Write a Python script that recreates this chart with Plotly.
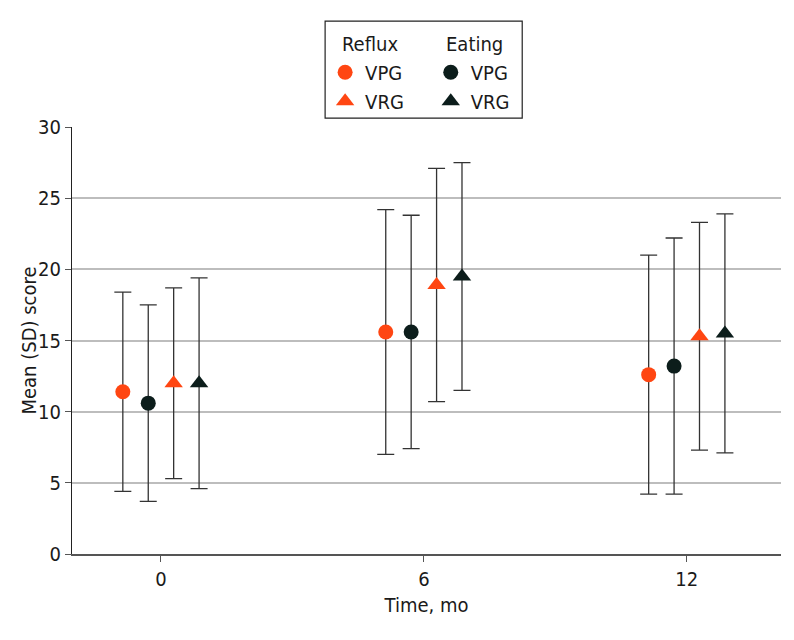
import plotly.graph_objects as go

# Time points (months)
months = [0, 6, 12]

# Mean and SD scores
reflux_vpg_mean = [11.4, 15.6, 12.6]
reflux_vpg_sd = [7.0, 8.6, 8.4]
eating_vpg_mean = [10.6, 15.6, 13.2]
eating_vpg_sd = [6.9, 8.2, 9.0]
reflux_vrg_mean = [12.0, 18.9, 15.3]
reflux_vrg_sd = [6.7, 8.2, 8.0]
eating_vrg_mean = [12.0, 19.5, 15.5]
eating_vrg_sd = [7.4, 8.0, 8.4]

orange = '#ff4612'
dark = '#0c1d1b'
font_family = 'DejaVu Sans Condensed, Liberation Sans Narrow, Roboto, sans-serif'
fsize = 20

# dodge so the four groups sit side by side around each time point
offsets = [-0.87, -0.29, 0.29, 0.87]

series = [
    ('VPG', reflux_vpg_mean, reflux_vpg_sd, orange, 'circle', 'legend'),
    ('VPG', eating_vpg_mean, eating_vpg_sd, dark, 'circle', 'legend2'),
    ('VRG', reflux_vrg_mean, reflux_vrg_sd, orange, 'triangle-up', 'legend'),
    ('VRG', eating_vrg_mean, eating_vrg_sd, dark, 'triangle-up', 'legend2'),
]

fig = go.Figure()

for (name, mean, sd, color, symbol, leg), off in zip(series, offsets):
    fig.add_trace(go.Scatter(
        x=[m + off for m in months], y=mean,
        mode='markers', name=name, legend=leg,
        marker=dict(color=color, symbol=symbol, size=15 if symbol == 'circle' else 16),
        error_y=dict(type='data', array=sd, visible=True,
                     color='#333333', thickness=1.3, width=8.5),
    ))

# page body has an 8px margin, so the figure is 8px smaller than the window
fig.update_layout(
    width=786, height=632,
    margin=dict(l=64, r=13, t=119, b=86, autoexpand=False),
    plot_bgcolor='white', paper_bgcolor='white',
    font=dict(family=font_family, size=fsize, color='#1a1a1a'),
    legend=dict(
        x=0.357, y=1.174, xanchor='left', yanchor='top',
        bgcolor='rgba(0,0,0,0)', font=dict(size=fsize),
        itemwidth=30, tracegroupgap=0,
    ),
    legend2=dict(
        x=0.506, y=1.174, xanchor='left', yanchor='top',
        bgcolor='rgba(0,0,0,0)', font=dict(size=fsize),
        itemwidth=30, tracegroupgap=0,
    ),
    annotations=[
        dict(text='Reflux', xref='paper', yref='paper', x=0.378, y=1.194,
             xanchor='left', yanchor='middle', showarrow=False, font=dict(size=fsize)),
        dict(text='Eating', xref='paper', yref='paper', x=0.525, y=1.194,
             xanchor='left', yanchor='middle', showarrow=False, font=dict(size=fsize)),
        dict(text='Mean (SD) score', xref='paper', yref='paper', x=-0.062, y=0.5,
             xanchor='center', yanchor='middle', textangle=-90, showarrow=False,
             font=dict(size=fsize)),
    ],
    xaxis=dict(
        range=[-2.03, 14.15], automargin=False,
        tickvals=months, ticktext=[str(m) for m in months],
        showgrid=False, zeroline=False,
        showline=True, linecolor='#555555', linewidth=1.5,
        ticks='outside', ticklen=6, tickcolor='#555555',
        title=dict(text='Time, mo', font=dict(size=fsize), standoff=8),
        tickfont=dict(size=fsize),
    ),
    yaxis=dict(
        range=[0, 30], dtick=5, automargin=False,
        showgrid=True, gridcolor='#bdbdbd', gridwidth=1.5,
        zeroline=False,
        showline=True, linecolor='#222222', linewidth=1.2,
        ticks='outside', ticklen=6, tickcolor='#555555',
        tickfont=dict(size=fsize),
    ),
    shapes=[dict(
        type='rect', xref='paper', yref='paper',
        x0=0.357, x1=0.635, y0=1.021, y1=1.248,
        line=dict(color='#222222', width=1.2), fillcolor='rgba(0,0,0,0)',
    )],
)

fig.write_html("out.html")
